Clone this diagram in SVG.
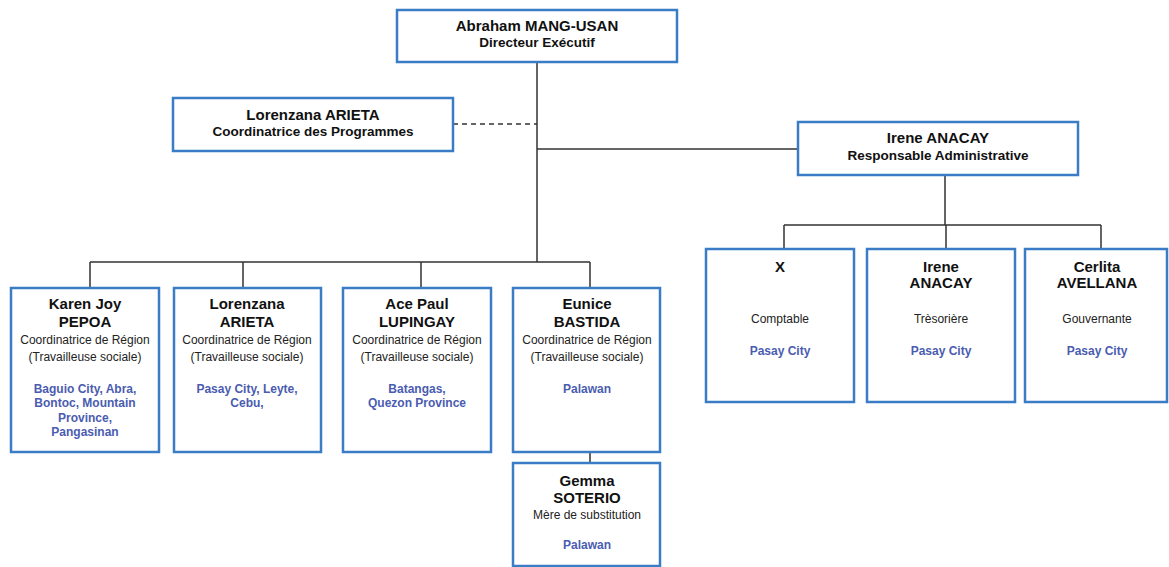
<svg xmlns="http://www.w3.org/2000/svg" width="1169" height="567" viewBox="0 0 1169 567">
<style>
.box{fill:#fff;stroke:#3b7cc6;stroke-width:2.5}
.ln{fill:none;stroke:#333;stroke-width:1.5}
.dash{stroke-dasharray:5,4}
text{font-family:"Liberation Sans",Arial,sans-serif;text-anchor:middle}
.nm{font-size:15px;font-weight:bold;fill:#111}
.sub{font-size:13.5px;font-weight:bold;fill:#111}
.role{font-size:12px;fill:#222}
.loc{font-size:12px;font-weight:bold;fill:#4a5cb0}
</style>
<rect width="1169" height="567" fill="#fff"/>
<g id="connectors">
<path class="ln" d="M537 62V262M537 149H798M90 262H590M90 262V288M243 262V288M421 262V288M590 262V288M590 452V463"/>
<path class="ln dash" d="M453 124H537"/>
<path class="ln" d="M945 175V225M784 225H1101M784 225V249M946 225V249M1101 225V249"/>
</g>
<g id="director">
<rect class="box" x="397" y="10" width="280" height="52"/>
<text class="nm" x="537" y="31">Abraham MANG-USAN</text>
<text class="sub" x="537" y="47">Directeur Exécutif</text>
</g>
<g id="coord-programmes">
<rect class="box" x="173" y="98" width="280" height="53"/>
<text class="nm" x="313" y="120">Lorenzana ARIETA</text>
<text class="sub" x="313" y="136">Coordinatrice des Programmes</text>
</g>
<g id="admin">
<rect class="box" x="798" y="122" width="280" height="53"/>
<text class="nm" x="938" y="143">Irene ANACAY</text>
<text class="sub" x="938" y="160">Responsable Administrative</text>
</g>
<g id="karen">
<rect class="box" x="11" y="288" width="148" height="164"/>
<text class="nm" x="85" y="309">Karen Joy</text>
<text class="nm" x="85" y="327">PEPOA</text>
<text class="role" x="85" y="344">Coordinatrice de Région</text>
<text class="role" x="85" y="361">(Travailleuse sociale)</text>
<text class="loc" x="85" y="393">Baguio City, Abra,</text>
<text class="loc" x="85" y="407">Bontoc, Mountain</text>
<text class="loc" x="85" y="422">Province,</text>
<text class="loc" x="85" y="436">Pangasinan</text>
</g>
<g id="lorenzana">
<rect class="box" x="174" y="288" width="147" height="164"/>
<text class="nm" x="247" y="309">Lorenzana</text>
<text class="nm" x="247" y="327">ARIETA</text>
<text class="role" x="247" y="344">Coordinatrice de Région</text>
<text class="role" x="247" y="361">(Travailleuse sociale)</text>
<text class="loc" x="247" y="393">Pasay City, Leyte,</text>
<text class="loc" x="247" y="407">Cebu,</text>
</g>
<g id="ace">
<rect class="box" x="343" y="288" width="148" height="164"/>
<text class="nm" x="417" y="309">Ace Paul</text>
<text class="nm" x="417" y="327">LUPINGAY</text>
<text class="role" x="417" y="344">Coordinatrice de Région</text>
<text class="role" x="417" y="361">(Travailleuse sociale)</text>
<text class="loc" x="417" y="393">Batangas,</text>
<text class="loc" x="417" y="407">Quezon Province</text>
</g>
<g id="eunice">
<rect class="box" x="513" y="288" width="147" height="164"/>
<text class="nm" x="587" y="309">Eunice</text>
<text class="nm" x="587" y="327">BASTIDA</text>
<text class="role" x="587" y="344">Coordinatrice de Région</text>
<text class="role" x="587" y="361">(Travailleuse sociale)</text>
<text class="loc" x="587" y="393">Palawan</text>
</g>
<g id="gemma">
<rect class="box" x="513" y="463" width="147" height="103"/>
<text class="nm" x="587" y="486">Gemma</text>
<text class="nm" x="587" y="503">SOTERIO</text>
<text class="role" x="587" y="519">Mère de substitution</text>
<text class="loc" x="587" y="549">Palawan</text>
</g>
<g id="comptable">
<rect class="box" x="706" y="249" width="148" height="153"/>
<text class="nm" x="780" y="272">X</text>
<text class="role" x="780" y="323">Comptable</text>
<text class="loc" x="780" y="355">Pasay City</text>
</g>
<g id="tresoriere">
<rect class="box" x="867" y="249" width="148" height="153"/>
<text class="nm" x="941" y="272">Irene</text>
<text class="nm" x="941" y="288">ANACAY</text>
<text class="role" x="941" y="323">Trèsorière</text>
<text class="loc" x="941" y="355">Pasay City</text>
</g>
<g id="gouvernante">
<rect class="box" x="1025" y="249" width="142" height="153"/>
<text class="nm" x="1097" y="272">Cerlita</text>
<text class="nm" x="1097" y="288">AVELLANA</text>
<text class="role" x="1097" y="323">Gouvernante</text>
<text class="loc" x="1097" y="355">Pasay City</text>
</g>
</svg>
